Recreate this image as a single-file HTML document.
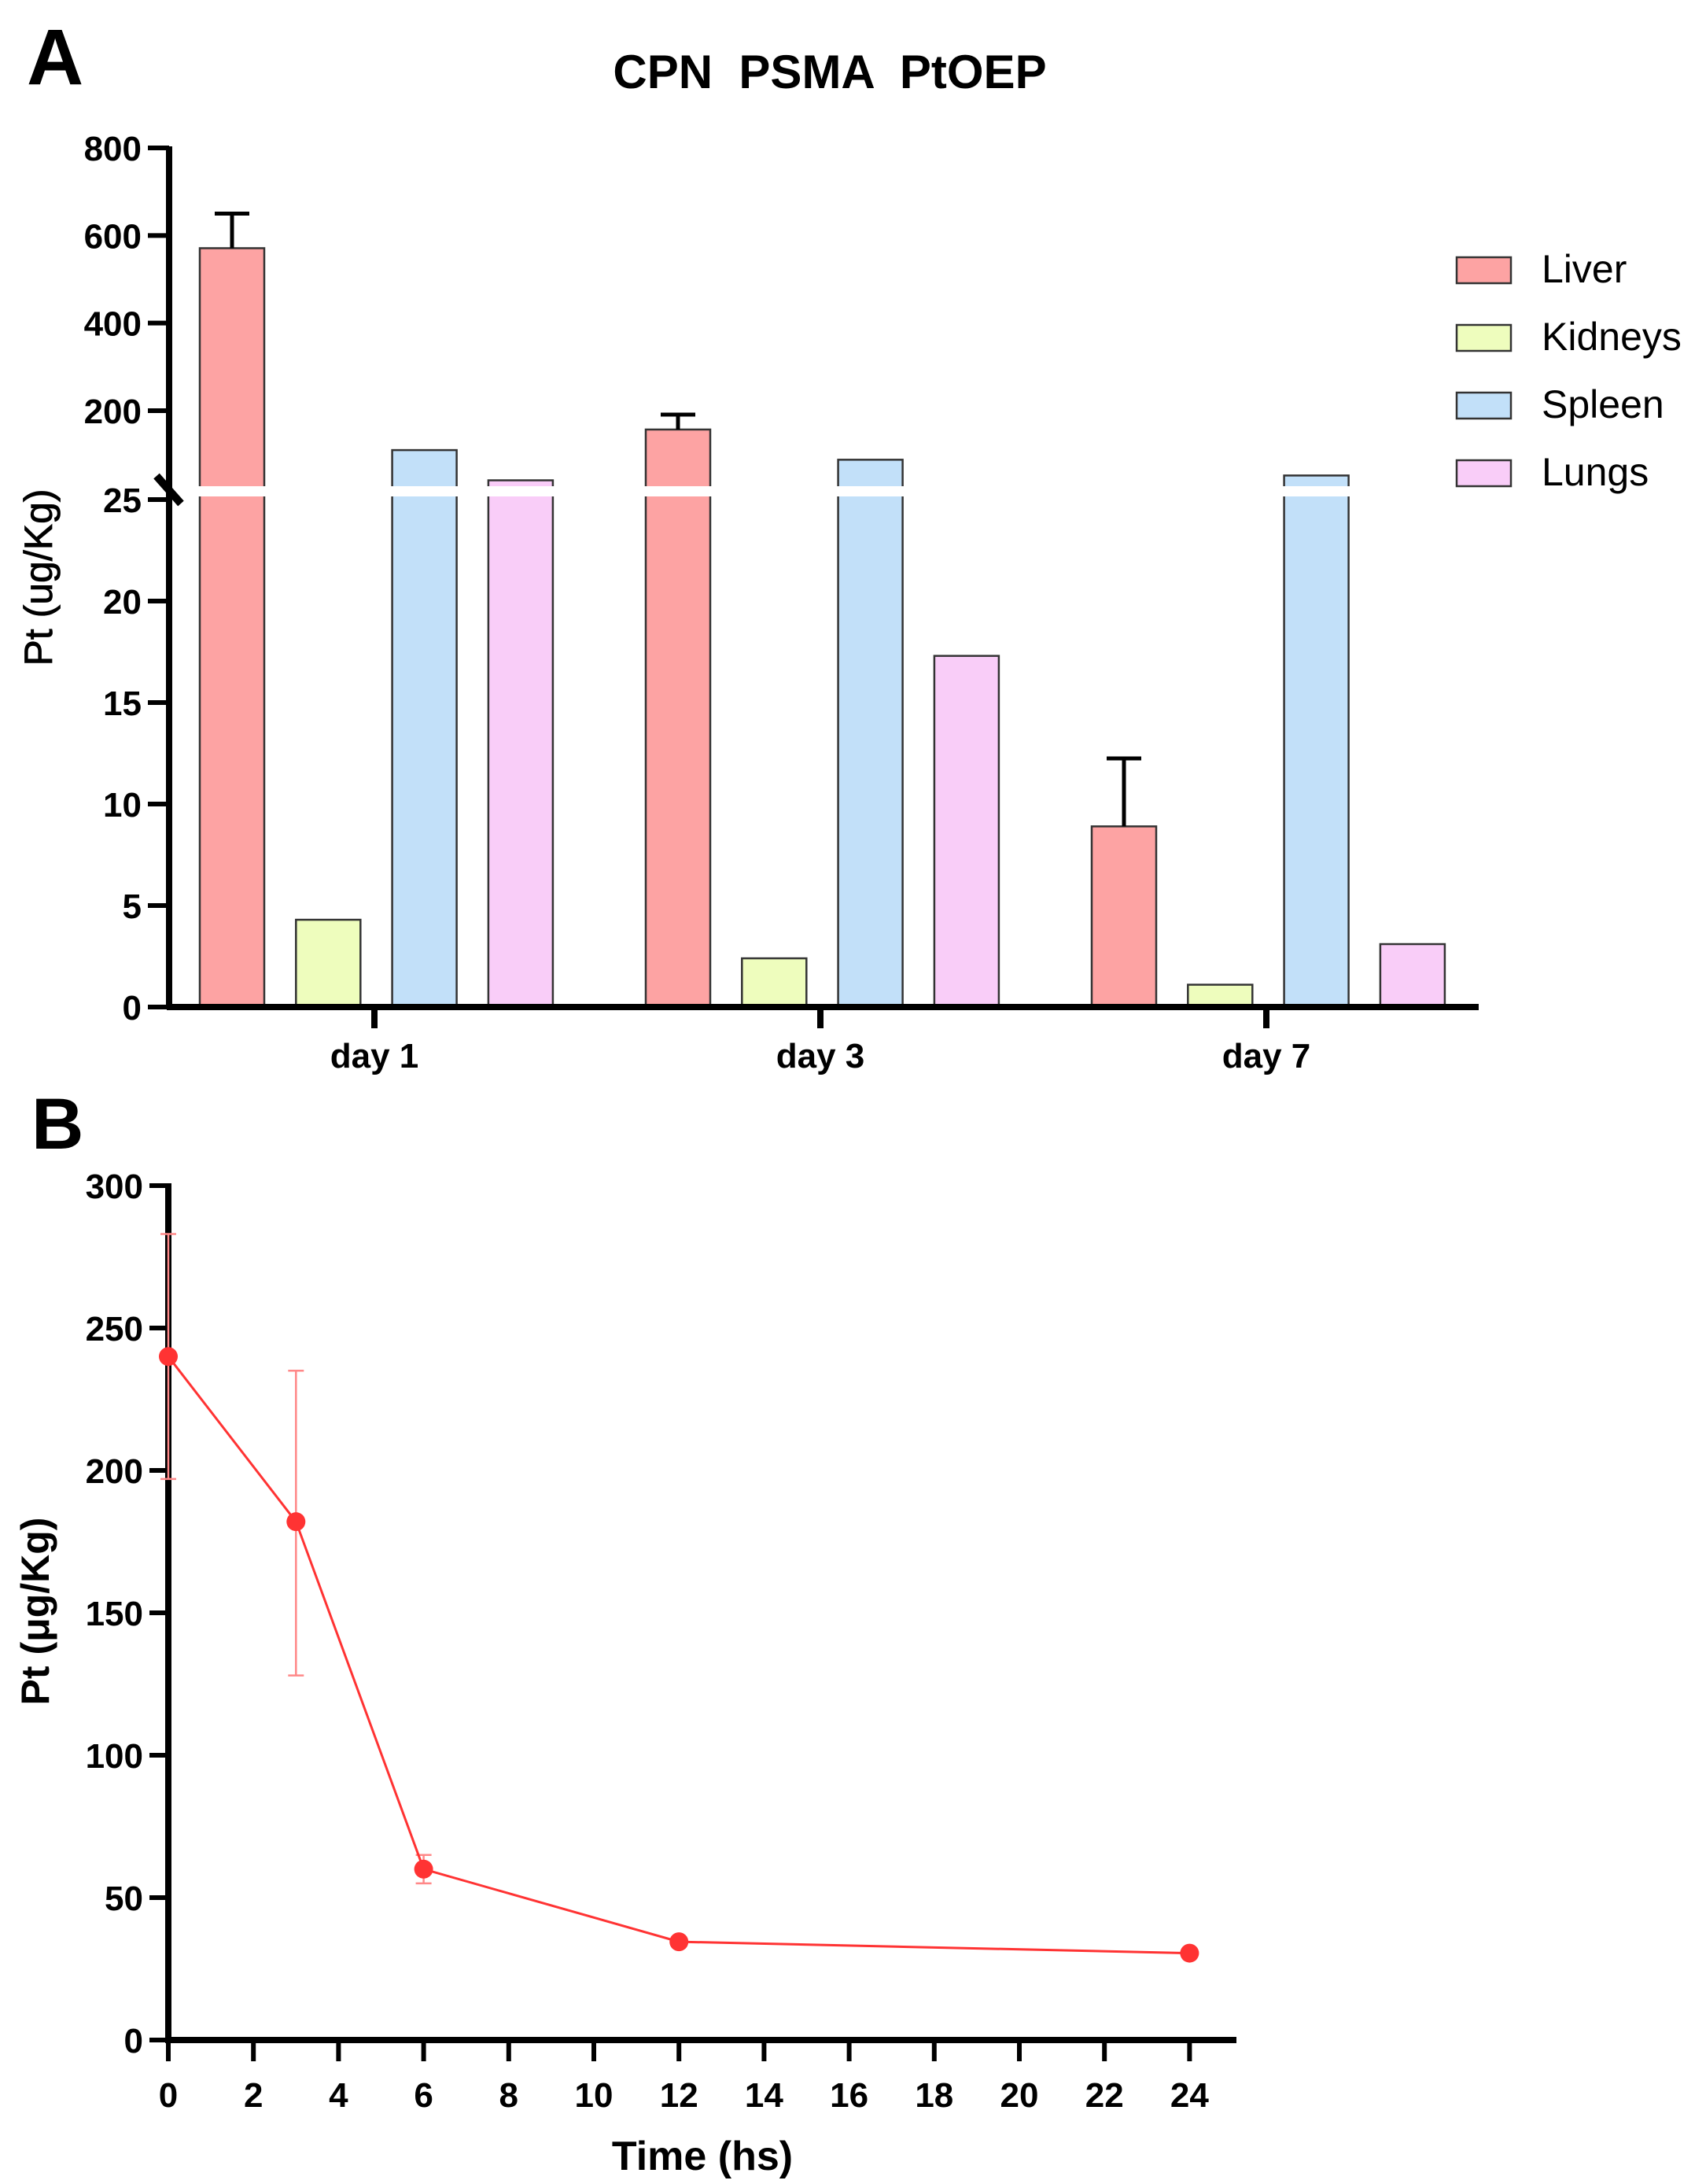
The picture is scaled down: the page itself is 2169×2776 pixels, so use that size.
<!DOCTYPE html>
<html><head><meta charset="utf-8">
<style>
html,body{margin:0;padding:0;background:#fff;}
svg{display:block;}
text{font-family:"Liberation Sans",sans-serif;white-space:pre;}
.nar{font-family:"Liberation Sans Narrow","Liberation Sans",sans-serif;}
</style></head>
<body>
<svg id="fig" width="2169" height="2776" viewBox="0 0 2169 2776" xmlns="http://www.w3.org/2000/svg">
<rect width="2169" height="2776" fill="#fff"/>
<g id="A"></g>
<g id="B"></g>
</svg>
<script>
// Panel A data
const groups = ["day 1","day 3","day 7"];
const organs = ["Liver","Kidneys","Spleen","Lungs"];
const organColors = ["#fda3a3","#eefdbd","#c2e0f9","#f9cdf8"];
const liverVals = [571, 157, 8.9];
const liverErr = [650, 191, 12.25];
const kidneyVals = [4.3, 2.4, 1.1];
const spleenVals = [110, 88, 52];
const lungVals = [41, 17.3, 3.1];
const lowerTicks = [0,5,10,15,20,25];
const upperTicks = [200,400,600,800];
// Panel B data
const timeX = [0,3,6,12,24];
const ptY = [240,182,60,34.5,30.5];
const ptErrHi = [283,235,65,36,32];
const ptErrLo = [197,128,55,33,29];
const xTicksB = [0,2,4,6,8,10,12,14,16,18,20,22,24];
const yTicksB = [0,50,100,150,200,250,300];

const NS="http://www.w3.org/2000/svg";
function mk(parent,tag,attrs,txt){const e=document.createElementNS(NS,tag);for(const k in attrs)e.setAttribute(k,attrs[k]);if(txt!==undefined)e.textContent=txt;parent.appendChild(e);return e;}

// ---------- Panel A ----------
const A=document.getElementById('A');
const yLow=v=>1280-v*25.8;
const yUp=v=>522-(v-200)*0.5567;
const yA=v=>v>25?yUp(v):yLow(v);
const groupX=i=>476+i*567;
const barW=82, barStep=122.3;

let t=mk(A,'text',{x:34,y:107,'font-size':100,'font-weight':'bold'},'A');

t=mk(A,'text',{x:1055,y:112,'font-size':60,'font-weight':'bold','text-anchor':'middle'},'CPN  PSMA  PtOEP');

t=mk(A,'text',{x:0,y:0,'font-size':50,'font-weight':'500','text-anchor':'middle',transform:'translate(66,734) rotate(-90)',stroke:'#000','stroke-width':0.8},'Pt (ug/Kg)');


const series=[liverVals,kidneyVals,spleenVals,lungVals];
series.forEach((vals,s)=>{
  vals.forEach((v,g)=>{
    const x=groupX(g)-222+s*barStep;
    const y=yA(v);
    const r=mk(A,'rect',{x:x,y:y,width:barW,height:1280-y,fill:organColors[s],stroke:'#333','stroke-width':2.5});
    
    
    if(s===0){
      const ey=yA(liverErr[g]);
      const e=mk(A,'path',{d:`M${x+barW/2},${y} V${ey} M${x+barW/2-22},${ey} H${x+barW/2+22}`,stroke:'#000','stroke-width':5,fill:'none'});
      
      
    }
  });
});
let br=mk(A,'rect',{x:218,y:618,width:1700,height:13,fill:'#fff'});

let ax=mk(A,'path',{d:'M215,186 V1283 M212,1280 H1880',stroke:'#000','stroke-width':8,fill:'none'});

let sl=mk(A,'path',{d:'M199,605 L230,640',stroke:'#000','stroke-width':10});

lowerTicks.forEach(v=>{
  const y=yLow(v);
  let tk=mk(A,'line',{x1:188,x2:215,y1:y,y2:y,stroke:'#000','stroke-width':6});
  
  let l=mk(A,'text',{x:180,y:y+16,'font-size':44,'font-weight':'bold','text-anchor':'end'},String(v));
  
});
upperTicks.forEach(v=>{
  const y=yUp(v);
  let tk=mk(A,'line',{x1:188,x2:215,y1:y,y2:y,stroke:'#000','stroke-width':6});
  
  let l=mk(A,'text',{x:180,y:y+16,'font-size':44,'font-weight':'bold','text-anchor':'end'},String(v));
  
});
groups.forEach((g,i)=>{
  const x=groupX(i);
  let tk=mk(A,'line',{x1:x,x2:x,y1:1280,y2:1307,stroke:'#000','stroke-width':8});
  
  let l=mk(A,'text',{x:x,y:1357,'font-size':44,'font-weight':'bold','text-anchor':'middle'},g);
  
});
organs.forEach((o,i)=>{
  const y=327+i*86;
  let sw=mk(A,'rect',{x:1852,y:y,width:69,height:33,fill:organColors[i],stroke:'#333','stroke-width':2.5});
  
  let l=mk(A,'text',{x:1960,y:y+32,'font-size':50},o);
  
});

// ---------- Panel B ----------
const B=document.getElementById('B');
const xB=v=>214+v*54.1;
const yB=v=>2593-v*3.62;
t=mk(B,'text',{x:40,y:1460,'font-size':92,'font-weight':'bold'},'B');

t=mk(B,'text',{x:0,y:0,'font-size':50,'font-weight':'bold','text-anchor':'middle',transform:'translate(62,2048) rotate(-90)'},'Pt (μg/Kg)');
t.classList.add('nar');

t=mk(B,'text',{x:893,y:2758,'font-size':52,'font-weight':'bold','text-anchor':'middle'},'Time (hs)');
t.classList.add('nar');

ax=mk(B,'path',{d:`M214,${yB(300)-3} V2597 M210,2593 H1572`,stroke:'#000','stroke-width':8,fill:'none'});

yTicksB.forEach(v=>{
  const y=yB(v);
  let tk=mk(B,'line',{x1:190,x2:214,y1:y,y2:y,stroke:'#000','stroke-width':6});
  
  let l=mk(B,'text',{x:182,y:y+16,'font-size':44,'font-weight':'bold','text-anchor':'end'},String(v));
  l.classList.add('nar');
  
});
xTicksB.forEach(v=>{
  const x=xB(v);
  let tk=mk(B,'line',{x1:x,x2:x,y1:2593,y2:2620,stroke:'#000','stroke-width':6});
  
  let l=mk(B,'text',{x:x,y:2678,'font-size':44,'font-weight':'bold','text-anchor':'middle'},String(v));
  l.classList.add('nar');
  
});
timeX.forEach((tx,i)=>{
  const x=xB(tx);
  const e=mk(B,'path',{d:`M${x},${yB(ptErrHi[i])} V${yB(ptErrLo[i])} M${x-10},${yB(ptErrHi[i])} H${x+10} M${x-10},${yB(ptErrLo[i])} H${x+10}`,stroke:'#f88','stroke-width':2.5,fill:'none'});
  
});
const pts=timeX.map((tx,i)=>xB(tx)+','+yB(ptY[i])).join(' ');
let pl=mk(B,'polyline',{points:pts,fill:'none',stroke:'#f33','stroke-width':3});

timeX.forEach((tx,i)=>{
  const c=mk(B,'circle',{cx:xB(tx),cy:yB(ptY[i]),r:12,fill:'#f33'});
  
});
</script>
</body></html>
